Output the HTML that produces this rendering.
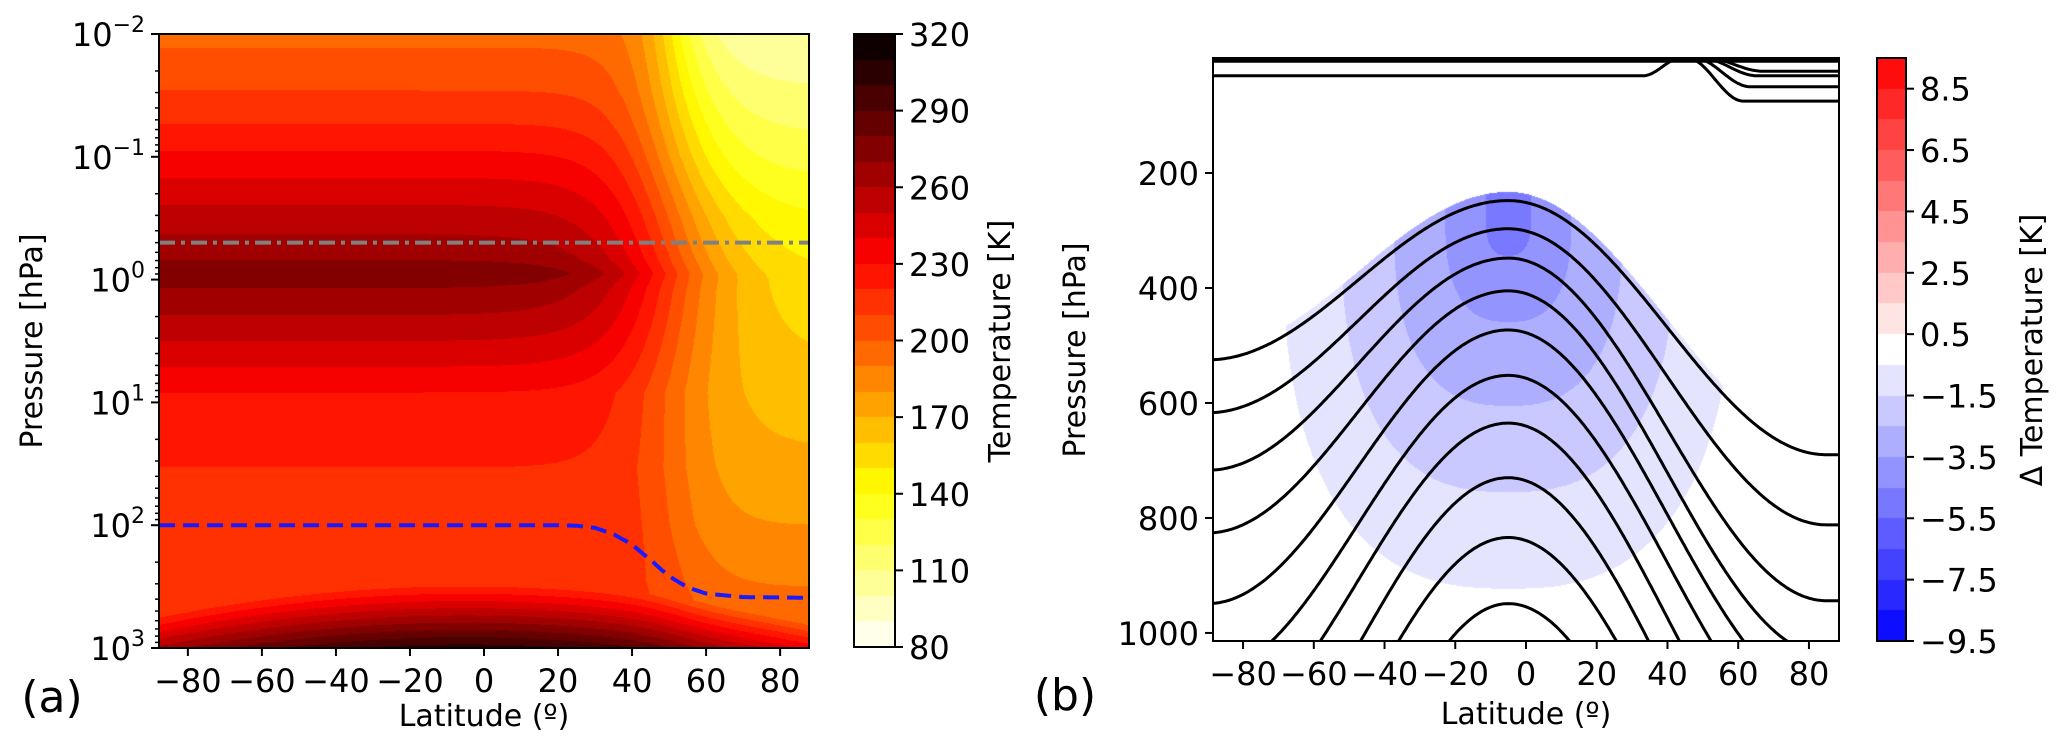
<!DOCTYPE html>
<html><head><meta charset="utf-8">
<style>
html,body{margin:0;padding:0;background:#fff;overflow:hidden;}
#wrap{position:relative;width:2067px;height:752px;overflow:hidden;background:#fff;}
canvas{position:absolute;}
svg{position:absolute;left:0;top:0;}
text{font-family:"DejaVu Sans","Liberation Sans",sans-serif;fill:#000;}
</style></head>
<body>
<div id="wrap">
<canvas id="cA" width="650" height="614" style="left:159px;top:34px"></canvas>
<canvas id="cbA" width="41" height="613" style="left:854px;top:34px"></canvas>
<canvas id="cB" width="626" height="583" style="left:1213px;top:58px"></canvas>
<canvas id="cbB" width="29" height="583" style="left:1877px;top:58px"></canvas>
<svg id="sv" width="2067" height="752"></svg>
</div>
<script>
// ---------- Panel (a) data ----------
const leftZ = [-2,-1.89,-1.54,-1.27,-1.05,-0.83,-0.61,-0.37,-0.16,-0.05,0.07,0.29,0.50,0.71,0.92,1.53,2.47,3];
const leftT = [197,200,210,220,230,240,250,260,270,279,270,260,250,240,230,220,215,215];
const rightZ = [-2,-1.5,-1,-0.5,0,0.5,1,1.5,2,2.5,3];
const rightT = [100,112,125,140,150,158,165,172,180,190,200];
const transZ = [-2,-1,0,1,2,3];
const transLon = [51,50.5,51,50.5,51,54];
const transWidth = [5.5,8,10.6,8.5,6,6];
const tropLon = [-88,20,25,30,35,40,45,50,55,60,70,88];
const tropP = [100,100,101,105,118,143,190,259,320,360,385,390];
const stratLineP = 0.5;
const tempTicks = [80,110,140,170,200,230,260,290,320];
const latTicks = [-80,-60,-40,-20,0,20,40,60,80];
const presExps = [-2,-1,0,1,2,3];
// ---------- Panel (b) data ----------
const arcPeakP = [248,297,348,405,473,552,635,730,834,949];
const arcLeftP = [525,617,717,826,949,1070,1183,1314,1446,1651];
const arcRightP = [690,812,944,1038,1116,1204,1313,1427,1531,1680];
const arcPeakLon = -5;
const topRightP = [75,50,31,23];
const topRightStart = [45.5,47.5,49.5,51];
const dtProfP = [250,344,459,605,755,923,1012];
const dtProfV = [-5.3,-4.5,-3.5,-2.5,-1.5,-0.5,-0.1];
const presTicksB = [200,400,600,800,1000];
const dtTicks = [8.5,6.5,4.5,2.5,0.5,-1.5,-3.5,-5.5,-7.5,-9.5];

function interp(xs,ys,x){
  if(x<=xs[0])return ys[0];
  for(let i=1;i<xs.length;i++){ if(x<=xs[i]){const t=(x-xs[i-1])/(xs[i]-xs[i-1]);return ys[i-1]+t*(ys[i]-ys[i-1]);} }
  return ys[ys.length-1];
}
function clamp(v){return Math.max(0,Math.min(1,v));}
function hotR(T){
  let idx=Math.floor((T-80)/10); idx=Math.max(0,Math.min(23,idx));
  const mid=80+idx*10+5; const t=1-(mid-80)/240;
  return [clamp(t/0.365)*255, clamp((t-0.365)/0.375)*255, clamp((t-0.74)/0.26)*255];
}
function bwr(v){
  let idx=Math.floor(v+9.5); idx=Math.max(0,Math.min(18,idx));
  const mid=-9+idx; const t=(mid+9.5)/19;
  if(t<0.5) return [510*t,510*t,255];
  return [255,510*(1-t),510*(1-t)];
}
const AX0=159,AX1=809,AY0=34,AY1=648,LON0=-87.8,LON1=87.8;
const xA=lon=>AX0+(lon-LON0)/(LON1-LON0)*(AX1-AX0);
const yA=z=>AY0+(z+2)/5*(AY1-AY0);
const BX0=1213,BX1=1839,BY0=58,BY1=641,BLON0=-88.5,BLON1=88.5,BP0=0,BP1=1014;
const xB=lon=>BX0+(lon-BLON0)/(BLON1-BLON0)*(BX1-BX0);
const yB=p=>BY0+(p-BP0)/(BP1-BP0)*(BY1-BY0);

function tempField(lon,z){
  const TL=interp(leftZ,leftT,z), TR=interp(rightZ,rightT,z);
  const lc=interp(transZ,transLon,z), k=interp(transZ,transWidth,z);
  const w=1/(1+Math.exp(-(lon-lc)/k));
  let T=TL*(1-w)+TR*w;
  const q=Math.pow((lon+5)/85,2);
  const z0=2.47+0.27*q, Ts=305-45*q;
  if(z>z0) T+=(Ts-215)*(z-z0)/(3-z0);
  return T;
}
(function(){
  const c=document.getElementById('cA'),ctx=c.getContext('2d');
  const W=c.width,H=c.height,img=ctx.createImageData(W,H);
  for(let j=0;j<H;j++){const z=-2+(j+0.5)/H*5;
    for(let i=0;i<W;i++){const lon=LON0+(i+0.5)/W*(LON1-LON0);
      const col=hotR(tempField(lon,z));const o=(j*W+i)*4;
      img.data[o]=col[0];img.data[o+1]=col[1];img.data[o+2]=col[2];img.data[o+3]=255;}}
  ctx.putImageData(img,0,0);
  const cb=document.getElementById('cbA'),cx=cb.getContext('2d');
  for(let j=0;j<cb.height;j++){const T=320-(j+0.5)/cb.height*240;const col=hotR(T);
    cx.fillStyle='rgb('+(col[0]|0)+','+(col[1]|0)+','+(col[2]|0)+')';cx.fillRect(0,j,cb.width,1);}
})();
function arcP(k,lon){
  const dl=lon-arcPeakLon; const left=dl<0;
  const Wd=left?85:90; const u=Math.min(1,Math.abs(dl)/Wd);
  const s=(1-Math.cos(Math.PI*u))/2;
  const plat=left?arcLeftP[k]:arcRightP[k];
  return arcPeakP[k]+(plat-arcPeakP[k])*s;
}
(function(){
  const c=document.getElementById('cB'),ctx=c.getContext('2d');
  const W=c.width,H=c.height,img=ctx.createImageData(W,H);
  for(let j=0;j<H;j++){const p=BP0+(j+0.5)/H*(BP1-BP0);
    for(let i=0;i<W;i++){const lon=BLON0+(i+0.5)/W*(BLON1-BLON0);
      let v=0;
      if(p>arcP(0,lon)-15){
        const dx=Math.abs(lon+5)/64, dp=Math.max(0,p-280)/643;
        const r=Math.pow(Math.pow(dx,2.6)+Math.pow(dp,2.6),1/2.6);
        v=interp(dtProfP,dtProfV,280+r*643);
        if(r>1.05)v=0;
      }
      const col=bwr(v);const o=(j*W+i)*4;
      img.data[o]=col[0];img.data[o+1]=col[1];img.data[o+2]=col[2];img.data[o+3]=255;}}
  ctx.putImageData(img,0,0);
  const cb=document.getElementById('cbB'),cx=cb.getContext('2d');
  for(let j=0;j<cb.height;j++){const v=9.5-(j+0.5)/cb.height*19;const col=bwr(v);
    cx.fillStyle='rgb('+(col[0]|0)+','+(col[1]|0)+','+(col[2]|0)+')';cx.fillRect(0,j,cb.width,1);}
})();

const NS='http://www.w3.org/2000/svg';
const sv=document.getElementById('sv');
function mk(tag,attrs,parent){const e=document.createElementNS(NS,tag);for(const k in attrs)e.setAttribute(k,attrs[k]);(parent||sv).appendChild(e);return e;}
function txt(x,y,s,size,anchor,parent){const e=mk('text',{x:x,y:y,'font-size':size,'text-anchor':anchor||'middle'},parent);e.textContent=s;return e;}

const clipA=mk('clipPath',{id:'clipA'});mk('rect',{x:AX0,y:AY0,width:AX1-AX0,height:AY1-AY0},clipA);
const clipB=mk('clipPath',{id:'clipB'});mk('rect',{x:BX0,y:BY0,width:BX1-BX0,height:BY1-BY0},clipB);
let el;
el=mk('line',{x1:AX0,x2:AX1,y1:yA(Math.log10(stratLineP)),y2:yA(Math.log10(stratLineP)),stroke:'#808080','stroke-width':4,'stroke-dasharray':'16 6 4 6'});


let pd='';
for(let lon=LON0;lon<=LON1;lon+=0.5){pd+=(pd?'L':'M')+xA(lon).toFixed(1)+','+yA(Math.log10(interp(tropLon,tropP,lon))).toFixed(1);}
el=mk('path',{d:pd,fill:'none',stroke:'#1a1aff','stroke-width':4,'stroke-dasharray':'16 8','clip-path':'url(#clipA)'});



el=mk('rect',{x:AX0,y:AY0,width:AX1-AX0,height:AY1-AY0,fill:'none',stroke:'#000','stroke-width':2});


presExps.forEach(e=>{
  const y=yA(e);
  mk('line',{x1:AX0-8,x2:AX0,y1:y,y2:y,stroke:'#000','stroke-width':2});
  const t=mk('text',{x:AX0-14,y:y+12,'font-size':32,'text-anchor':'end'});
  
  
  const a=mk('tspan',{},t);a.textContent='10';
  const b=mk('tspan',{dy:-14,'font-size':22},t);b.textContent=e<0?'\u2212'+(-e):String(e);
  if(e<3){for(let m=2;m<=9;m++){const ym=yA(e+Math.log10(m));mk('line',{x1:AX0-4,x2:AX0,y1:ym,y2:ym,stroke:'#000','stroke-width':1.5});}}
});
latTicks.forEach(v=>{
  const x=xA(v);mk('line',{x1:x,x2:x,y1:AY1,y2:AY1+8,stroke:'#000','stroke-width':2});
  const t=txt(x,AY1+44,v<0?'\u2212'+(-v):String(v),32);
  
  
});
el=txt(484,726,'Latitude (º)',30);


el=txt(0,0,'Pressure [hPa]',30);el.setAttribute('transform','translate(42,341) rotate(-90)');


el=txt(52,712,'(a)',44);


el=mk('rect',{x:854,y:34,width:41,height:613,fill:'none',stroke:'#000','stroke-width':2});


tempTicks.forEach(v=>{
  const y=647-(v-80)/240*613;
  mk('line',{x1:895,x2:903,y1:y,y2:y,stroke:'#000','stroke-width':2});
  const t=txt(909,y+12,String(v),32,'start');
  
  
});
el=txt(0,0,'Temperature [K]',30);el.setAttribute('transform','translate(1010,341) rotate(-90)');



const gB=mk('g',{'clip-path':'url(#clipB)'});
arcPeakP.forEach((pk,k)=>{
  let dd='';for(let lon=BLON0;lon<=BLON1+0.01;lon+=0.5){dd+=(dd?'L':'M')+xB(lon).toFixed(1)+','+yB(arcP(k,lon)).toFixed(1);}
  const e=mk('path',{d:dd,fill:'none',stroke:'#000','stroke-width':3},gB);
  
  
});
el=mk('line',{x1:BX0,x2:BX1,y1:yB(3),y2:yB(3),stroke:'#000','stroke-width':6},gB);


{let dd='';for(let lon=BLON0;lon<=46;lon+=0.5){const u=clamp((lon-33)/11);dd+=(dd?'L':'M')+xB(lon).toFixed(1)+','+yB(31*(1-(1-Math.cos(Math.PI*u))/2)).toFixed(1);}
 el=mk('path',{d:dd,fill:'none',stroke:'#000','stroke-width':3},gB);
 
 }
topRightP.forEach((pp,k)=>{
  let dd='';for(let lon=topRightStart[k];lon<=BLON1+0.01;lon+=0.5){const u=clamp((lon-topRightStart[k])/16);dd+=(dd?'L':'M')+xB(lon).toFixed(1)+','+yB(pp*(1-Math.cos(Math.PI*u))/2).toFixed(1);}
  const e=mk('path',{d:dd,fill:'none',stroke:'#000','stroke-width':3},gB);
  
  
});
el=mk('rect',{x:BX0,y:BY0,width:BX1-BX0,height:BY1-BY0,fill:'none',stroke:'#000','stroke-width':2});


presTicksB.forEach(v=>{
  const y=yB(v);mk('line',{x1:BX0-8,x2:BX0,y1:y,y2:y,stroke:'#000','stroke-width':2});
  const t=txt(BX0-14,y+12,String(v),32,'end');
  
  
});
latTicks.forEach(v=>{
  const x=xB(v);mk('line',{x1:x,x2:x,y1:BY1,y2:BY1+8,stroke:'#000','stroke-width':2});
  const t=txt(x,BY1+44,v<0?'\u2212'+(-v):String(v),32);
  
  
});
el=txt(1526,724,'Latitude (º)',30);


el=txt(0,0,'Pressure [hPa]',30);el.setAttribute('transform','translate(1085,350) rotate(-90)');


el=txt(1065,710,'(b)',44);


el=mk('rect',{x:1877,y:58,width:29,height:583,fill:'none',stroke:'#000','stroke-width':2});


dtTicks.forEach(v=>{
  const y=58+(9.5-v)/19*583;
  mk('line',{x1:1906,x2:1914,y1:y,y2:y,stroke:'#000','stroke-width':2});
  const t=txt(1920,y+12,v<0?'\u2212'+(-v).toFixed(1):v.toFixed(1),32,'start');
  
  
});
el=txt(0,0,'\u0394 Temperature [K]',30);el.setAttribute('transform','translate(2042,350) rotate(-90)');


</script>
</body></html>
